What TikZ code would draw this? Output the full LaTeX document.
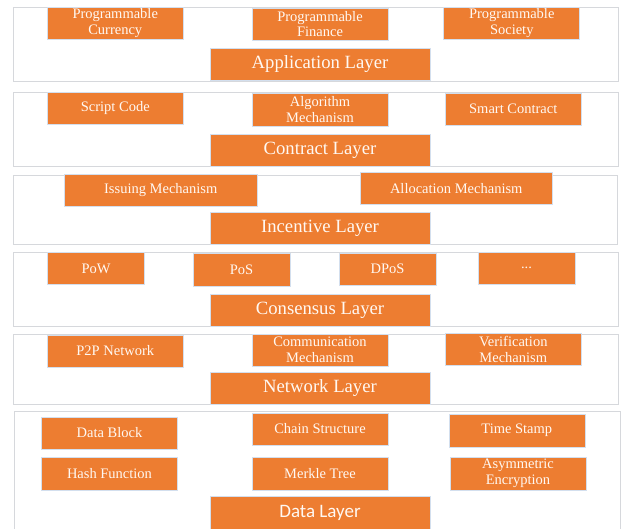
\documentclass[tikz,border=0pt]{standalone}
\usepackage{fontspec}
\setmainfont{Liberation Serif}
\newfontfamily\calib{Carlito}
\definecolor{boxorange}{HTML}{ED7D31}
\definecolor{boxedge}{HTML}{D3DFEE}
\definecolor{paneledge}{HTML}{D6D8DC}
\definecolor{boxtext}{HTML}{FFF8F2}
\begin{document}
\begin{tikzpicture}[x=1pt,y=-1pt,
  panel/.style={draw=paneledge, line width=0.9pt, fill=white},
  cell/.style={fill=boxorange, draw=boxedge, line width=0.6pt, text=boxtext,
    inner sep=0pt, align=center, minimum width=136pt, minimum height=32pt,
    font=\fontsize{14.5}{15.5}\selectfont},
  smallcell/.style={cell, minimum width=97pt},
  widecell/.style={cell, minimum width=192.5pt},
  layerbox/.style={cell, minimum width=220pt, minimum height=32.5pt,
    font=\fontsize{18.7}{20}\selectfont}]
\useasboundingbox (0,0) rectangle (621,528);
\begin{scope}
\clip (0,0) rectangle (621,528);

% layer panels
\draw[panel] (13.5,7) rectangle (618,81);
\draw[panel] (13.5,92) rectangle (618,166);
\draw[panel] (13.5,175) rectangle (617,244);
\draw[panel] (13.5,252) rectangle (618,326);
\draw[panel] (13.5,334) rectangle (618,404);
\draw[panel] (14,411.7) rectangle (620,545);

% application layer
\node[cell] (pc) at (115.25,23) {Programmable\\Currency};
\node[cell] (pf) at (320,24) {Programmable\\Finance};
\node[cell] (ps) at (511.75,23) {Programmable\\Society};
\node[layerbox] (app) at (320,64.5) {Application Layer};

% contract layer
\node[cell] (sc) at (115.25,108) {Script Code};
\node[cell, minimum height=33pt] (am) at (320,109.5) {Algorithm\\Mechanism};
\node[cell] (smc) at (513.25,109) {Smart Contract};
\node[layerbox] (con) at (320,150.5) {Contract Layer};

% incentive layer
\node[widecell] (im) at (160.75,190) {Issuing Mechanism};
\node[widecell] (alm) at (456.25,188.5) {Allocation Mechanism};
\node[layerbox] (inc) at (320,228.3) {Incentive Layer};

% consensus layer
\node[smallcell] (pow) at (96,268.5) {PoW};
\node[smallcell, minimum height=33pt] (pos) at (241.5,269.5) {PoS};
\node[smallcell] (dpos) at (387.5,269) {DPoS};
\node[smallcell] (more) at (526.5,268.5) {\raisebox{2pt}{...}};
\node[layerbox] (cons) at (320,310.3) {Consensus Layer};

% network layer
\node[cell] (p2p) at (115.25,351) {P2P Network};
\node[cell] (cm) at (320,350) {Communication\\Mechanism};
\node[cell] (vm) at (513.25,349.4) {Verification\\Mechanism};
\node[layerbox] (net) at (320,388.3) {Network Layer};

% data layer
\node[cell] (db) at (109.5,433) {Data Block};
\node[cell] (cs) at (320,429) {Chain Structure};
\node[cell, minimum height=33pt] (ts) at (516.8,430.3) {Time Stamp};
\node[cell, minimum height=33pt] (hf) at (109.5,473.5) {Hash Function};
\node[cell, minimum height=33pt] (mt) at (320,473.5) {Merkle Tree};
\node[cell, minimum height=33pt] (ae) at (518,473.5) {Asymmetric\\Encryption};
\node[layerbox, minimum height=33pt, font=\calib\fontsize{19}{20}\selectfont] (data) at (320,512.8) {Data Layer};
\end{scope}
\end{tikzpicture}
\end{document}
